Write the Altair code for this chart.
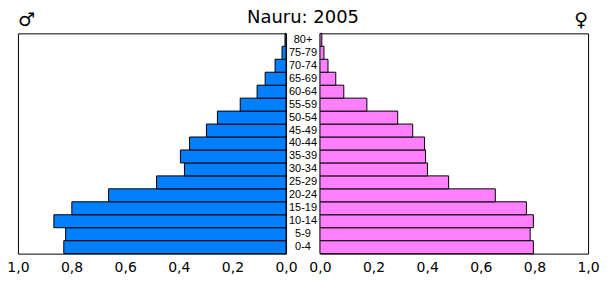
import altair as alt
import pandas as pd

ages = ["0-4", "5-9", "10-14", "15-19", "20-24", "25-29", "30-34", "35-39",
        "40-44", "45-49", "50-54", "55-59", "60-64", "65-69", "70-74", "75-79", "80+"]
male = [0.829, 0.822, 0.866, 0.799, 0.662, 0.483, 0.379, 0.394,
        0.360, 0.297, 0.256, 0.171, 0.108, 0.078, 0.041, 0.015, 0.004]
female = [0.796, 0.784, 0.796, 0.770, 0.654, 0.480, 0.401, 0.394,
          0.390, 0.346, 0.290, 0.175, 0.089, 0.059, 0.030, 0.015, 0.007]
tick_values = [0.0, 0.2, 0.4, 0.6, 0.8, 1.0]
title_text = "Nauru: 2005"

df = pd.DataFrame({"age": ages, "male": male, "female": female})
order = list(reversed(ages))

FONT = "DejaVu Sans"
y_enc = alt.Y("age:N", sort=order,
              scale=alt.Scale(paddingInner=0, paddingOuter=0), axis=None)

def x_axis():
    return alt.Axis(values=tick_values,
                    labelExpr="replace(format(datum.value, '.1f'), '.', ',')",
                    ticks=False, grid=False, domain=False, labelFlush=False,
                    labelOverlap=False, title=None, labelFont=FONT,
                    labelFontSize=14, labelColor="black", labelPadding=7)

W, H = 269, 221

left = alt.Chart(df).mark_bar(color="#0080FF", stroke="black", strokeWidth=1).encode(
    x=alt.X("male:Q", scale=alt.Scale(domain=[0, 1], reverse=True, nice=False), axis=x_axis()),
    y=y_enc,
).properties(width=W, height=H,
             title=alt.TitleParams("♂", anchor="start", frame="group", font=FONT, fontSize=19,
                                   fontWeight="normal", color="black", offset=3))

middle = alt.Chart(df).mark_text(font="Liberation Sans", fontSize=11, color="black",
                                 align="center", baseline="middle").encode(
    x=alt.value(17),
    y=y_enc,
    text="age:N",
).properties(width=34, height=H,
             view=alt.ViewBackground(stroke="transparent"),
             title=alt.TitleParams(title_text, anchor="middle", frame="group", font=FONT,
                                   fontSize=18, fontWeight="normal", color="black", offset=6))

right = alt.Chart(df).mark_bar(color="#FF80FF", stroke="black", strokeWidth=1).encode(
    x=alt.X("female:Q", scale=alt.Scale(domain=[0, 1], nice=False), axis=x_axis()),
    y=y_enc,
).properties(width=W, height=H,
             title=alt.TitleParams("♀", anchor="end", frame="group", font=FONT, fontSize=19,
                                   fontWeight="normal", color="black", offset=3))

chart = alt.hconcat(left, middle, right, spacing=0, bounds="flush").properties(
    padding={"left": 6, "top": 8, "right": 9, "bottom": 5},
    background="white",
).configure_view(stroke="black", strokeWidth=1).configure_concat(spacing=0)

chart.save("out.html", embed_options={"renderer": "svg", "actions": False})
